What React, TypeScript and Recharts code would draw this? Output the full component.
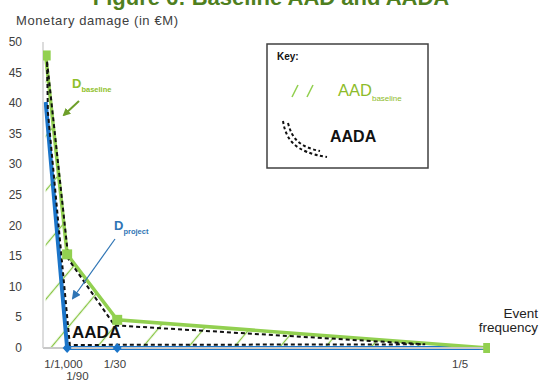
import React from 'react';
import { ComposedChart, Line, Area, XAxis, YAxis } from 'recharts';

// x positions along the (non-linear) event frequency axis, 0..100
const freqPositions = [0.6, 5.4, 16.6, 99.6];
const baselineDamage = [47.8, 15.3, 4.6, 0];
const projectDamage = [40.2, 0, 0, 0];

// hand-drawn dashed outline of the AADA region
const aadaOutlineX = [0.9, 5.7, 16.0, 85.5, 6.0, 1.1, 0.9];
const aadaOutlineY = [46.8, 14.5, 3.7, 0.6, 0.5, 38.5, 46.8];

const yTicks = [0, 5, 10, 15, 20, 25, 30, 35, 40, 45, 50];
const xTickValues = [4.6, 7.7, 16.1, 93.3];
const xTickLabels = ['1/1,000', '1/90', '1/30', '1/5'];

const GREEN = '#92D050';
const BLUE = '#1B75C9';
const TEXT = '#404040';

const chartData = freqPositions.map((x, i) => ({
  x,
  baseline: baselineDamage[i],
  project: projectDamage[i],
}));

const outlineData = aadaOutlineX.map((x, i) => ({ x, outline: aadaOutlineY[i] }));

const SquareDot = (props: any) => {
  const { cx, cy, index } = props;
  return <rect key={`sq-${index}`} x={cx - 5} y={cy - 5} width={10} height={10} fill={GREEN} />;
};

const DiamondDot = (props: any) => {
  const { cx, cy, index } = props;
  if (index !== 1 && index !== 2) return <g key={`dm-${index}`} />;
  return (
    <path
      key={`dm-${index}`}
      d={`M${cx},${cy - 5} L${cx + 4.5},${cy} L${cx},${cy + 5} L${cx - 4.5},${cy} Z`}
      fill={BLUE}
    />
  );
};

const YTick = (props: any) => {
  const { y, payload } = props;
  return (
    <text x={22} y={y} dy={4} textAnchor="end" fontSize={12} fill={TEXT}>
      {payload.value}
    </text>
  );
};

const XTick = (props: any) => {
  const { x, payload } = props;
  const i = xTickValues.indexOf(payload.value);
  const label = xTickLabels[i] ?? '';
  return (
    <text x={x} y={348} dy={label === '1/90' ? 32 : 20} textAnchor="middle" fontSize={11.5} fill={TEXT}>
      {label}
    </text>
  );
};

function Annotations() {
  return (
    <svg
      width={539}
      height={380}
      style={{ position: 'absolute', left: 0, top: 0, pointerEvents: 'none' }}
    >
      <defs>
        <marker id="arrowGreen" markerWidth="8" markerHeight="8" refX="6" refY="4" orient="auto" markerUnits="userSpaceOnUse">
          <path d="M0,0 L8,4 L0,8 Z" fill="#6E9F2A" />
        </marker>
        <marker id="arrowBlue" markerWidth="9" markerHeight="9" refX="7" refY="4.5" orient="auto" markerUnits="userSpaceOnUse">
          <path d="M0,0 L9,4.5 L0,9 Z" fill="#2F75B5" />
        </marker>
      </defs>

      <text x={271} y={5} textAnchor="middle" fontSize={22} fontWeight="bold" fill="#4F7F1F">
        Figure 6: Baseline AAD and AADA
      </text>
      <text x={16} y={25} fontSize={13} fill={TEXT} textLength={162} lengthAdjust="spacing">
        Monetary damage (in €M)
      </text>

      {/* D baseline label + arrow */}
      <text x={72} y={88} fontSize={13} fontWeight="bold" fill="#8FBF2A">
        D<tspan fontSize={7.5} dy={4}>baseline</tspan>
      </text>
      <line x1={79} y1={101} x2={64} y2={115} stroke="#6E9F2A" strokeWidth={2} markerEnd="url(#arrowGreen)" />

      {/* D project label + arrow */}
      <text x={114} y={230} fontSize={13} fontWeight="bold" fill="#2F75B5">
        D<tspan fontSize={7.5} dy={4}>project</tspan>
      </text>
      <line x1={115} y1={239} x2={73} y2={298} stroke="#2F75B5" strokeWidth={1.2} markerEnd="url(#arrowBlue)" />

      <text x={72} y={338} fontSize={17} fontWeight="bold" fill="#111">
        AADA
      </text>

      <text x={538} y={318} textAnchor="end" fontSize={13.5} fill="#222">Event</text>
      <text x={538} y={332} textAnchor="end" fontSize={13.5} fill="#222">frequency</text>

      {/* Key box */}
      <rect x={267} y={44} width={161} height={124} fill="white" stroke="#404040" strokeWidth={1.5} />
      <text x={277} y={60} fontSize={10} fontWeight="bold" fill="#111">Key:</text>
      <line x1={292} y1={97} x2={298} y2={85} stroke={GREEN} strokeWidth={1.5} />
      <line x1={307} y1={97} x2={313} y2={85} stroke={GREEN} strokeWidth={1.5} />
      <text x={338} y={96} fontSize={16.5} fill="#8DBB2A">
        AAD<tspan fontSize={8} dy={5}>baseline</tspan>
      </text>
      <path d="M283,121 C286,140 295,152 327,157" fill="none" stroke="#111" strokeWidth={2} strokeDasharray="3 2.5" />
      <path d="M288,123 C292,139 300,147 320,151" fill="none" stroke="#111" strokeWidth={2} strokeDasharray="3 2.5" />
      <text x={330} y={142} fontSize={16} fontWeight="bold" fill="#111">AADA</text>
    </svg>
  );
}

export default function App() {
  return (
    <div
      style={{
        position: 'absolute',
        left: 0,
        top: 0,
        width: 539,
        height: 380,
        background: 'white',
        fontFamily: '"Liberation Sans", Arial, sans-serif',
        overflow: 'hidden',
      }}
    >
      <ComposedChart width={539} height={380} data={chartData} margin={{ top: 42, right: 49, left: 0, bottom: 0 }}>
        <defs>
          <pattern id="hatch" width="35" height="35" patternUnits="userSpaceOnUse" patternTransform="rotate(40)">
            <line x1="17.5" y1="0" x2="17.5" y2="35" stroke="#86C440" strokeWidth={1.3} />
          </pattern>
        </defs>
        <XAxis
          dataKey="x"
          type="number"
          domain={[0, 100]}
          ticks={xTickValues}
          interval={0}
          tick={<XTick />}
          tickLine={false}
          tickSize={0}
          height={32}
          axisLine={{ stroke: '#C8C8C8', strokeWidth: 2 }}
          allowDataOverflow
        />
        <YAxis
          type="number"
          domain={[0, 50]}
          ticks={yTicks}
          interval={0}
          tick={<YTick />}
          tickLine={false}
          width={43}
          axisLine={{ stroke: '#D0D0D0', strokeWidth: 1.5 }}
        />
        <Area
          data={chartData}
          dataKey="baseline"
          type="linear"
          stroke="none"
          fill="url(#hatch)"
          fillOpacity={1}
          isAnimationActive={false}
        />
        <Line
          data={chartData}
          dataKey="project"
          type="linear"
          stroke={BLUE}
          strokeWidth={4}
          dot={DiamondDot}
          activeDot={false}
          isAnimationActive={false}
        />
        <Line
          data={chartData}
          dataKey="baseline"
          type="linear"
          stroke={GREEN}
          strokeWidth={3.5}
          dot={SquareDot}
          activeDot={false}
          isAnimationActive={false}
        />
        <Line
          data={outlineData}
          dataKey="outline"
          type="linear"
          stroke="#111"
          strokeWidth={2}
          strokeDasharray="4 3"
          dot={false}
          activeDot={false}
          isAnimationActive={false}
        />
      </ComposedChart>
      <Annotations />
    </div>
  );
}
